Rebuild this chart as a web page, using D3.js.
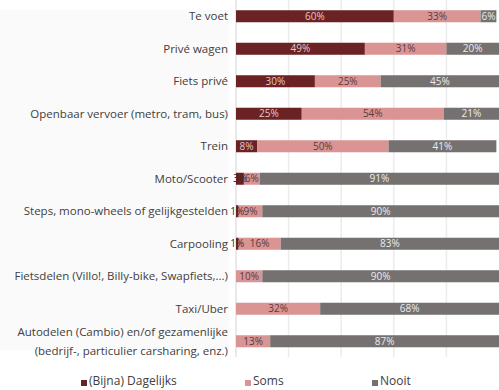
<!DOCTYPE html>
<html>
<head>
<meta charset="utf-8">
<script src="https://cdn.jsdelivr.net/npm/d3@7"></script>
<style>
  body { margin: 0; background: #fff; }
  svg { display: block; font-family: "Open Sans", sans-serif; }
</style>
</head>
<body>
<svg id="svg"></svg>
<script>
// categories, top to bottom
const categories = [
  "Te voet",
  "Privé wagen",
  "Fiets privé",
  "Openbaar vervoer (metro, tram, bus)",
  "Trein",
  "Moto/Scooter",
  "Steps, mono-wheels of gelijkgestelden",
  "Carpooling",
  "Fietsdelen (Villo!, Billy-bike, Swapfiets,...)",
  "Taxi/Uber",
  "Autodelen (Cambio) en/of gezamenlijke\n(bedrijf-, particulier carsharing, enz.)"
];

const seriesNames = ["(Bijna) Dagelijks", "Soms", "Nooit"];
const daily = [60, 49, 30, 25, 8, 3, 1, 1, 0, 0, 0];
const sometimes = [33, 31, 25, 54, 50, 6, 9, 16, 10, 32, 13];
const never = [6, 20, 45, 21, 41, 91, 90, 83, 90, 68, 87];

const colours = ["#6b2224", "#d99493", "#767171"];
const labelColours = ["#e8c8c8", "#5b3b3b", "#ececec"];

const w = 499;
const h = 390;
const left = 236;
const right = 499;

let svg = d3.select("#svg")
  .attr("width", w)
  .attr("height", h);

// faint panel behind the category labels
svg.append("rect")
  .attr("x", 0).attr("y", 10)
  .attr("width", 229).attr("height", 340)
  .attr("fill", "#fafafa");

const xScale = d3.scaleLinear()
  .domain([0, 100])
  .range([left, right]);

const yScale = d3.scaleBand()
  .domain(categories)
  .range([0, 357.5])
  .paddingInner(0.63)
  .paddingOuter(0.315);

// gridlines
svg.append("g")
  .selectAll("line")
  .data([0, 20, 40, 60, 80])
  .enter()
  .append("line")
  .attr("x1", d => xScale(d))
  .attr("x2", d => xScale(d))
  .attr("y1", 0)
  .attr("y2", 357)
  .attr("stroke", d => d === 0 ? "#e2e2e2" : "#ececec")
  .attr("stroke-width", 1.5);

// stack the three series
const rows = categories.map((c, i) => ({ cat: c, s0: daily[i], s1: sometimes[i], s2: never[i] }));
const stack = d3.stack().keys(["s0", "s1", "s2"]);
const stacked = stack(rows);

const bars = svg.append("g");
const barLabels = svg.append("g");

stacked.forEach((layer, k) => {
  const segs = layer.filter(d => d[1] - d[0] > 0);
  bars.append("g")
    .selectAll("rect")
    .data(segs)
    .enter()
    .append("rect")
    .attr("x", d => xScale(d[0]))
    .attr("y", d => yScale(d.data.cat))
    .attr("width", d => xScale(d[1]) - xScale(d[0]))
    .attr("height", yScale.bandwidth())
    .attr("fill", colours[k]);

  barLabels.append("g")
    .selectAll("text")
    .data(segs)
    .enter()
    .append("text")
    .attr("x", d => xScale((d[0] + d[1]) / 2))
    .attr("y", d => yScale(d.data.cat) + yScale.bandwidth() / 2)
    .attr("dy", "0.35em")
    .attr("text-anchor", "middle")
    .attr("font-size", "10px")
    .attr("fill", d => (d[1] - d[0]) < 4 ? "#3a2a2a" : labelColours[k])
    .text(d => (d[1] - d[0]) + "%");
});

// category labels
const labels = svg.append("g");
categories.forEach(c => {
  const lines = c.split("\n");
  const cy = yScale(c) + yScale.bandwidth() / 2;
  const t = labels.append("text")
    .attr("x", 228)
    .attr("text-anchor", "end")
    .attr("font-size", "11.5px")
    .attr("fill", "#404040");
  lines.forEach((l, j) => {
    t.append("tspan")
      .attr("x", 228)
      .attr("y", cy + (j - (lines.length - 1) / 2) * 19)
      .attr("dy", "0.35em")
      .text(l);
  });
});

// legend
const legendX = [81, 245, 372];
const legend = svg.append("g");
seriesNames.forEach((name, k) => {
  legend.append("rect")
    .attr("x", legendX[k]).attr("y", 380)
    .attr("width", 6).attr("height", 6)
    .attr("fill", colours[k]);
  legend.append("text")
    .attr("x", legendX[k] + 8)
    .attr("y", 381)
    .attr("dy", "0.35em")
    .attr("font-size", "12px")
    .attr("fill", "#404040")
    .text(name);
});
</script>
</body>
</html>
